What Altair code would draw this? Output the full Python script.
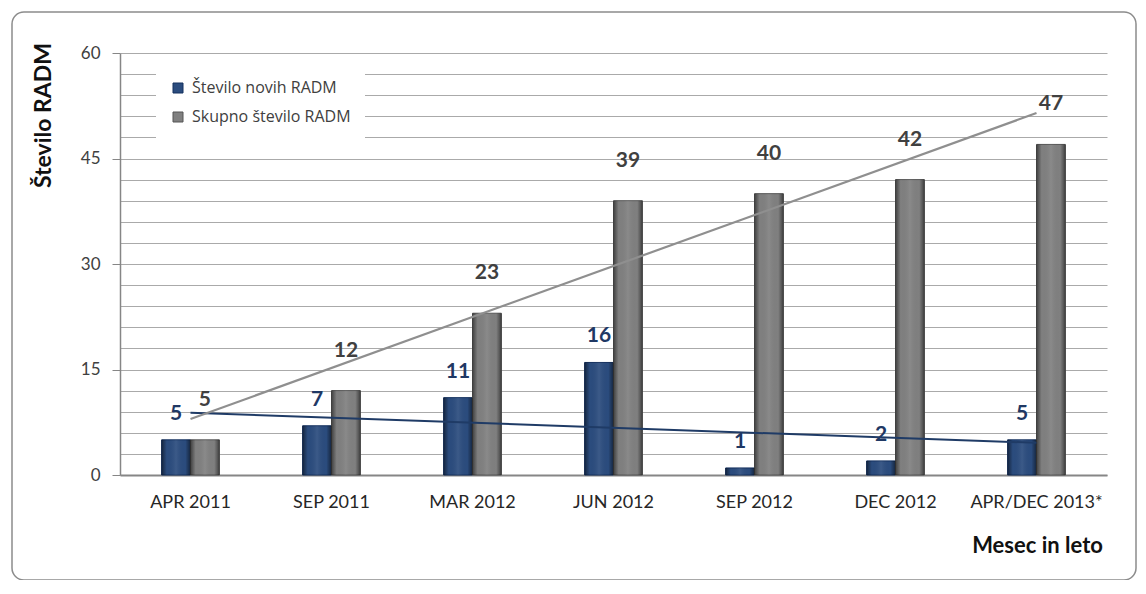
import altair as alt
import pandas as pd

categories = ["APR 2011", "SEP 2011", "MAR 2012", "JUN 2012", "SEP 2012", "DEC 2012", "APR/DEC 2013*"]
new_counts = [5, 7, 11, 16, 1, 2, 5]
total_counts = [5, 12, 23, 39, 40, 42, 47]
series_names = ["Število novih RADM", "Skupno število RADM"]

rows = []
for i, c in enumerate(categories):
    rows.append({"cat": c, "idx": i + 1, "series": series_names[0], "value": new_counts[i]})
    rows.append({"cat": c, "idx": i + 1, "series": series_names[1], "value": total_counts[i]})
df = pd.DataFrame(rows)

FONT = "Lato"

x_band = alt.X(
    "cat:N",
    scale=alt.Scale(domain=categories, paddingInner=0.59, paddingOuter=0.295),
    axis=alt.Axis(
        title="Mesec in leto", labelAngle=0, labelFont=FONT, labelFontSize=18,
        labelColor="#262626", labelPadding=18, ticks=False, grid=False,
        domainColor="#868686", domainWidth=2,
        titleFont=FONT, titleFontSize=22, titleFontWeight="bold", titleColor="#111111",
        titleX=917, titleY=70, titleAlign="center", titleBaseline="middle",
    ),
)
x_band_noaxis = alt.X(
    "cat:N",
    scale=alt.Scale(domain=categories, paddingInner=0.59, paddingOuter=0.295),
    axis=None,
)
xo = alt.XOffset("series:N", scale=alt.Scale(domain=series_names, paddingInner=0, paddingOuter=0))

y_enc = alt.Y(
    "value:Q",
    scale=alt.Scale(domain=[0, 60], nice=False),
    axis=alt.Axis(
        values=list(range(0, 61, 3)),
        labelExpr="datum.value % 15 === 0 ? datum.label : ''",
        tickSize=8,
        tickColor={"condition": {"test": "datum.value % 15 === 0", "value": "#868686"}, "value": "transparent"},
        labelFont=FONT, labelFontSize=17, labelColor="#404040", labelPadding=12,
        domainColor="#868686", domainWidth=1.5,
        gridColor="#aaaaaa", gridWidth=1,
        title="Število RADM", titleFont=FONT, titleFontSize=23, titleFontWeight="bold",
        titleColor="#111111", titleX=-77, titleY=62, titleAngle=270,
        titleAlign="center", titleBaseline="middle",
    ),
)

bars = alt.Chart(df).mark_bar(strokeWidth=1).encode(
    x=x_band, xOffset=xo, y=y_enc,
    color=alt.Color("series:N", scale=alt.Scale(domain=series_names, range=["#2b4c7e", "#808080"]),
                    legend=alt.Legend(title=None)),
    stroke=alt.Stroke("series:N", scale=alt.Scale(domain=series_names, range=["#14305e", "#555555"]),
                      legend=None),
)

shade = alt.Gradient(
    gradient="linear", x1=0, x2=1, y1=0, y2=0,
    stops=[
        alt.GradientStop(color="rgba(0,0,0,0.5)", offset=0),
        alt.GradientStop(color="rgba(0,0,0,0)", offset=0.18),
        alt.GradientStop(color="rgba(255,255,255,0.08)", offset=0.5),
        alt.GradientStop(color="rgba(0,0,0,0)", offset=0.82),
        alt.GradientStop(color="rgba(0,0,0,0.5)", offset=1),
    ],
)
overlay = alt.Chart(df).mark_bar(color=shade).encode(x=x_band, xOffset=xo, y=y_enc)

bar_group = alt.layer(bars, overlay)

x_trend = alt.X("idx:Q", scale=alt.Scale(domain=[0.5, 7.5], nice=False, zero=False), axis=None)

trend_new = alt.Chart(df).transform_filter(
    alt.datum.series == series_names[0]
).transform_regression("idx", "value").mark_line(color="#1f3b66", strokeWidth=2).encode(
    x=x_trend, y=y_enc
)
trend_total = alt.Chart(df).transform_filter(
    alt.datum.series == series_names[1]
).transform_regression("idx", "value").mark_line(color="#8f8f8f", strokeWidth=2.2).encode(
    x=x_trend, y=y_enc
)

lab_new = alt.Chart(df).transform_filter(alt.datum.series == series_names[0]).mark_text(
    dy=-26, baseline="middle", font=FONT, fontSize=21, fontWeight="bold", color="#1f3864"
).encode(x=x_band_noaxis, xOffset=xo, y=y_enc, text="value:Q")
lab_total = alt.Chart(df).transform_filter(alt.datum.series == series_names[1]).mark_text(
    dy=-40, baseline="middle", font=FONT, fontSize=21, fontWeight="bold", color="#404040"
).encode(x=x_band_noaxis, xOffset=xo, y=y_enc, text="value:Q")
labels = alt.layer(lab_new, lab_total)

frame = alt.Chart(pd.DataFrame({"k": [0]})).mark_rect(
    fillOpacity=0, stroke="#8c8c8c", strokeWidth=1.5, cornerRadius=12
).encode(x=alt.value(-108), x2=alt.value(1016), y=alt.value(-41), y2=alt.value(527))

chart = alt.layer(frame, bar_group, trend_new, trend_total, labels).resolve_scale(
    x="independent"
).properties(
    width=987, height=422,
    autosize=alt.AutoSizeParams(type="none"),
    padding={"left": 112, "top": 45, "right": 31, "bottom": 105},
    background="white",
).configure_view(strokeWidth=0).configure_legend(
    orient="none", legendX=36, legendY=13, fillColor="white", padding=14,
    labelFont="Open Sans", labelFontSize=16, labelColor="#404040",
    symbolType="square", symbolSize=100, symbolStrokeColor="#333333", symbolStrokeWidth=1,
    rowPadding=13, labelOffset=6,
)

chart.save("out.html", embed_options={"renderer": "svg", "actions": False})
